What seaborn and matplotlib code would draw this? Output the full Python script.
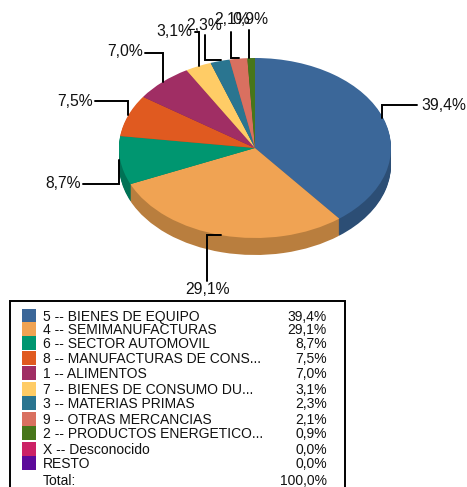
import matplotlib
matplotlib.use("Agg")
import matplotlib.pyplot as plt
from matplotlib.patches import Rectangle
import seaborn as sns

categories = ["5 -- BIENES DE EQUIPO", "4 -- SEMIMANUFACTURAS", "6 -- SECTOR AUTOMOVIL",
              "8 -- MANUFACTURAS DE CONS...", "1 -- ALIMENTOS", "7 -- BIENES DE CONSUMO DU...",
              "3 -- MATERIAS PRIMAS", "9 -- OTRAS MERCANCIAS", "2 -- PRODUCTOS ENERGETICO...",
              "X -- Desconocido", "RESTO"]
values = [39.4, 29.1, 8.7, 7.5, 7.0, 3.1, 2.3, 2.1, 0.9, 0.0, 0.0]
labels = ["39,4%", "29,1%", "8,7%", "7,5%", "7,0%", "3,1%", "2,3%", "2,1%", "0,9%", "0,0%", "0,0%"]
colors = ["#3B6799", "#F0A353", "#009670", "#E05A20", "#A02E64", "#FFCC66",
          "#2A7590", "#D97060", "#47761A", "#CC2266", "#5C0A9A"]
side_colors = ["#2C4E75", "#B97E3E", "#007255", "#A8441A", "#78234B", "#BF994D",
               "#20586C", "#A35448", "#355914", "#99194C", "#450873"]

W, H = 467, 487
CX, CY, RX, RY, DEPTH = 255, 148, 136, 90, 17

sns.set_theme(style="white")
plt.rcParams["font.family"] = ["Liberation Sans", "DejaVu Sans"]

fig = plt.figure(figsize=(W / 100, H / 100), dpi=100)

# pie axes: unit circle stretched into the ellipse
ax = fig.add_axes([0, 0, 1, 1])
flat = {"linewidth": 0, "edgecolor": "none"}
for d in range(DEPTH, 0, -1):
    ax.pie(values, colors=side_colors, startangle=90, counterclock=False,
           center=(0, -d / RY), radius=1, wedgeprops=flat)
ax.pie(values, colors=colors, startangle=90, counterclock=False, radius=1, wedgeprops=flat)
ax.set_aspect("auto")
ax.set_xlim(-CX / RX, (W - CX) / RX)
ax.set_ylim((CY - H) / RY, CY / RY)
ax.axis("off")

# overlay in pixel coordinates for leaders and legend
ov = fig.add_axes([0, 0, 1, 1], facecolor="none")
ov.set_xlim(0, W)
ov.set_ylim(H, 0)
ov.axis("off")

leaders = [
    ([382, 382, 417], [118, 105, 105], "39,4%", 421, 105, "left"),
    ([221, 207, 207], [235, 235, 281], "29,1%", 207, 289, "center"),
    ([119, 119, 83], [160, 184, 184], "8,7%", 81, 184, "right"),
    ([128, 128, 95], [115, 101, 101], "7,5%", 93, 101, "right"),
    ([163, 163, 145], [82, 53, 53], "7,0%", 143, 52, "right"),
    ([199, 199, 195], [66, 32, 32], "3,1%", 192, 31, "right"),
    ([221, 205, 205], [60, 60, 35], "2,3%", 204, 25, "center"),
    ([239, 231, 231], [58, 58, 32], "2,1%", 232, 20, "center"),
    ([249, 249], [58, 30], "0,9%", 250, 19, "center"),
]
for xs, ys, txt, tx, ty, ha in leaders:
    ov.plot(xs, ys, color="black", lw=1.4, solid_joinstyle="miter")
    ov.text(tx, ty, txt, fontsize=11.3, ha=ha, va="center", color="#111111")

# legend box runs off the bottom of the image
ov.add_patch(Rectangle((10, 300.5), 335, 200, fc="white", ec="black", lw=1.4))
row_y = [316, 329, 343, 358, 372.5, 389, 403, 419, 433, 449, 463]
for name, lab, col, y in zip(categories, labels, colors, row_y):
    ov.add_patch(Rectangle((22, y - 7), 14, 14, fc=col, ec="none"))
    ov.text(43, y + 1, name, fontsize=10, va="center", color="#111111")
    ov.text(327, y + 1, lab, fontsize=10, va="center", ha="right", color="#111111")
ov.text(43, 481, "Total:", fontsize=10, va="center", color="#111111")
ov.text(327, 481, "100,0%", fontsize=10, va="center", ha="right", color="#111111")

fig.savefig("out.png", dpi=100)
